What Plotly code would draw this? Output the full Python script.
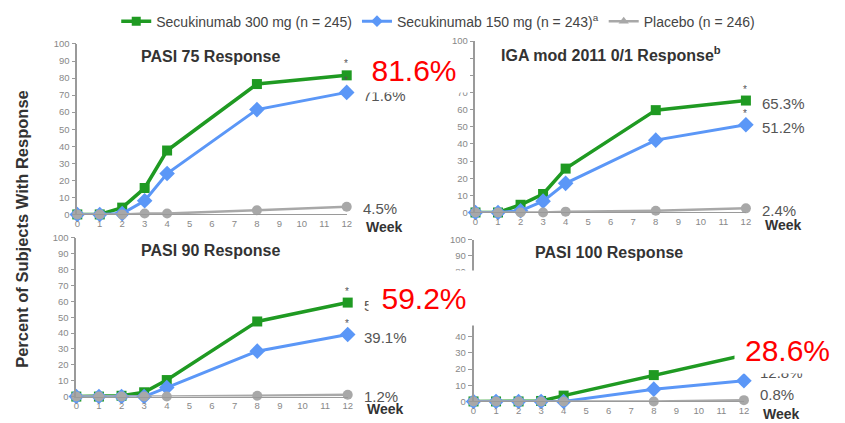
import plotly.graph_objects as go

W, H = 845, 423

weeks = [0, 1, 2, 3, 4, 8, 12]

pasi75_300 = [0, 0, 4, 15.5, 37.5, 76.5, 81.6]
pasi75_150 = [0, 0, 0.5, 8, 24, 61.5, 71.6]
pasi75_pbo = [0, 0, 0, 0.5, 0.5, 2.5, 4.5]

iga_300 = [0, 0, 4.5, 10.8, 25.6, 59.7, 65.3]
iga_150 = [0, 0, 1, 6.6, 17, 42.2, 51.2]
iga_pbo = [0, 0, 0, 0, 0.5, 1, 2.4]

pasi90_300 = [0, 0, 0.5, 2.7, 10.4, 47.3, 59.2]
pasi90_150 = [0, 0, 0, 0, 5.7, 28.6, 39.1]
pasi90_pbo = [0, 0, 0, 0, 0, 0.5, 1.2]

pasi100_300 = [0, 0, 0, 0.3, 3.6, 16.3, 28.6]
pasi100_150 = [0, 0, 0, 0, 0, 7.6, 12.8]
pasi100_pbo = [0, 0, 0, 0, 0, 0, 0.8]

series_names = ["Secukinumab 300 mg (n = 245)",
                "Secukinumab 150 mg (n = 243)<sup>a</sup>",
                "Placebo (n = 246)"]
panel_titles = ["PASI 75 Response",
                "IGA mod 2011 0/1 Response<sup>b</sup>",
                "PASI 90 Response",
                "PASI 100 Response"]
highlight_values = [81.6, 59.2, 28.6]

GREEN = "#1f9a22"
BLUE = "#5b97f7"
GRAY = "#a8a8a8"
TXT = "#444444"
FONT = "Arial, Liberation Sans, sans-serif"


def px_x(p):
    return p / W


def px_y(p):
    return 1 - p / H


# pixel boxes of each panel: (left, right, top(=100), bottom(=0))
panels = [
    dict(box=(75, 347, 39, 214), data=(pasi75_300, pasi75_150, pasi75_pbo)),
    dict(box=(477, 750, 36, 212), data=(iga_300, iga_150, iga_pbo)),
    dict(box=(74, 348, 238, 401), data=(pasi90_300, pasi90_150, pasi90_pbo)),
    dict(box=(475, 748, 240, 406), data=(pasi100_300, pasi100_150, pasi100_pbo)),
]

styles = [
    dict(color=GREEN, width=3.5, symbol="square", size=10),
    dict(color=BLUE, width=3, symbol="diamond", size=12),
    dict(color=GRAY, width=2.5, symbol="circle", size=10),
]

fig = go.Figure()
layout_axes = {}
annotations = []

for i, p in enumerate(panels):
    n = "" if i == 0 else str(i + 1)
    xa, ya = "x" + n, "y" + n
    l, r, t, b = p["box"]
    layout_axes["xaxis" + n] = dict(
        domain=[px_x(l), px_x(r)], range=[0, 12], anchor=ya,
        tickmode="linear", tick0=0, dtick=1, ticks="", showgrid=False,
        zeroline=False, showline=True, linecolor="#9a9a9a", linewidth=1,
        tickfont=dict(size=9.5, color="#888888", family=FONT),
    )
    layout_axes["yaxis" + n] = dict(
        domain=[px_y(b), px_y(t)], range=[0, 100], anchor=xa,
        tickmode="linear", tick0=0, dtick=10, ticks="outside", ticklen=4,
        tickcolor="#9a9a9a", showgrid=False, zeroline=False, showline=True,
        linecolor="#9a9a9a", linewidth=1.5,
        tickfont=dict(size=9.5, color="#888888", family=FONT),
    )
    for vals, st in zip(p["data"], styles):
        fig.add_trace(go.Scatter(
            x=weeks, y=vals, xaxis=xa, yaxis=ya, mode="lines+markers",
            line=dict(color=st["color"], width=st["width"]),
            marker=dict(symbol=st["symbol"], size=st["size"], color=st["color"]),
            cliponaxis=False, showlegend=False, hoverinfo="skip",
        ))
    # panel title
    annotations.append(dict(
        xref="paper", yref="paper", x=(px_x(l) + px_x(r)) / 2 + (0.5 if i % 2 else -2) / W,
        y=px_y(t + 13), text="<b>" + panel_titles[i] + "</b>", showarrow=False,
        font=dict(size=16, color="#333333", family=FONT), xanchor="center", yanchor="middle",
    ))
    # "Week" label at the end of the x axis
    annotations.append(dict(
        xref="paper", yref="paper", x=px_x(r + 17), y=px_y(b + 13),
        text="<b>Week</b>", showarrow=False, xanchor="left", yanchor="middle",
        font=dict(size=14, color="#333333", family=FONT),
    ))
    # end-of-line values and significance stars
    v300, v150, vpbo = p["data"][0][-1], p["data"][1][-1], p["data"][2][-1]
    shifts = [(v300, -3), (v150, -3), (vpbo, -2)]
    if i == 3:
        shifts = [(v300, 0), (v150, 8), (vpbo, 6)]
    for v, ys in shifts:
        annotations.append(dict(
            xref=xa, yref=ya, x=12, y=v, text=f"{v:.1f}%", showarrow=False,
            xanchor="left", yanchor="middle", xshift=14, yshift=ys,
            font=dict(size=15, color="#555555", family=FONT),
        ))
    for v in (v300, v150):
        annotations.append(dict(
            xref=xa, yref=ya, x=12, y=v, text="*", showarrow=False,
            xanchor="center", yanchor="bottom", xshift=-1, yshift=4,
            font=dict(size=10, color="#555555", family=FONT),
        ))

# legend entries (symbols as shown in the key)
legend_symbols = ["square", "diamond", "triangle-up"]
for name, st, sym in zip(series_names, styles, legend_symbols):
    fig.add_trace(go.Scatter(
        x=[None], y=[None], mode="lines+markers", name=name,
        line=dict(color=st["color"], width=st["width"]),
        marker=dict(symbol=sym, size=9, color=st["color"]),
    ))

# shared y-axis title
annotations.append(dict(
    xref="paper", yref="paper", x=px_x(19), y=px_y(229), textangle=-90,
    text="<b>Percent of Subjects With Response</b>", showarrow=False,
    xanchor="center", yanchor="middle",
    font=dict(size=16.5, color="#333333", family=FONT),
))

# highlighted week-12 values for the 300 mg arm
hl_boxes = [(360, 470, 44, 88), (370, 480, 273, 327), (740, 845, 330, 376)]
for v, (l, r, t, b) in zip(highlight_values, hl_boxes):
    annotations.append(dict(
        xref="paper", yref="paper", x=px_x((l + r) / 2), y=px_y((t + b) / 2),
        text=f"{v:.1f}%", showarrow=False, xanchor="center", yanchor="middle",
        width=r - l, height=b - t, bgcolor="white", borderpad=0,
        font=dict(size=30, color="#ff0000", family=FONT),
    ))

fig.update_layout(
    width=W, height=H, margin=dict(l=0, r=0, t=0, b=0),
    paper_bgcolor="white", plot_bgcolor="white",
    annotations=annotations,
    legend=dict(orientation="h", x=0.52, xanchor="center", y=px_y(16),
                yanchor="middle", font=dict(size=14, color=TXT, family=FONT),
                bgcolor="rgba(0,0,0,0)", itemwidth=30),
    **layout_axes,
)

fig.write_html("out.html")
